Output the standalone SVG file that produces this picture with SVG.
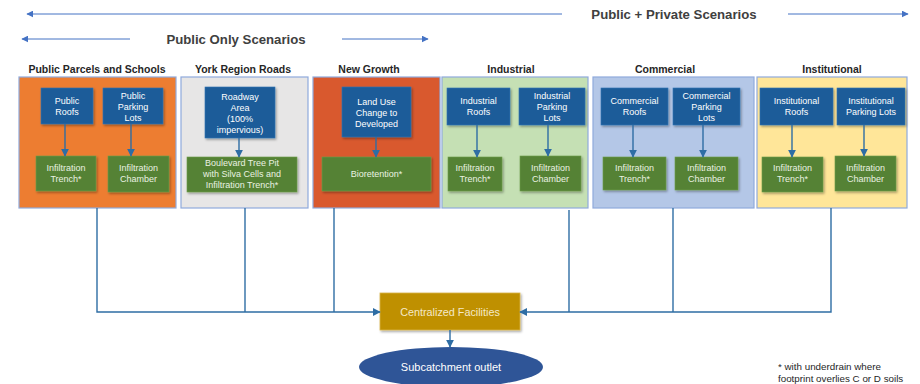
<svg xmlns="http://www.w3.org/2000/svg" width="920" height="384" viewBox="0 0 920 384">
  <defs>
    <marker id="arrTop" viewBox="0 0 10 10" refX="9" refY="5" markerWidth="7" markerHeight="7" orient="auto-start-reverse" markerUnits="userSpaceOnUse">
      <path d="M0,0 L10,5 L0,10 z" fill="#4472C4"/>
    </marker>
    <marker id="arrFlow" viewBox="0 0 10 10" refX="9" refY="5" markerWidth="8" markerHeight="8" orient="auto" markerUnits="userSpaceOnUse">
      <path d="M0,0 L10,5 L0,10 z" fill="#2E6DA4"/>
    </marker>
    <filter id="shadow" x="-10%" y="-10%" width="130%" height="140%">
      <feDropShadow dx="1.2" dy="1.5" stdDeviation="1" flood-color="#000" flood-opacity="0.35"/>
    </filter>
  </defs>
  <style>
    .scope { fill: none; stroke: #4472C4; stroke-width: 1; }
    .scopeText { font-family: "Liberation Sans", Arial, sans-serif; font-weight: bold; font-size: 13.2px; fill: #404040; text-anchor: middle; }
    .title { font-family: "Liberation Sans", Arial, sans-serif; font-weight: bold; font-size: 10.5px; fill: #262626; text-anchor: middle; }
    .panel { stroke: #8FAADC; stroke-width: 1.2; }
    .src { fill: #1F5C99; stroke: #2E75B6; stroke-width: 0.6; filter: url(#shadow); }
    .bmp { fill: #548235; stroke: #6E9E4A; stroke-width: 0.6; filter: url(#shadow); }
    .lbl { font-family: "Liberation Sans", Arial, sans-serif; font-size: 9px; fill: #FFFFFF; text-anchor: middle; }
    .lblG { font-family: "Liberation Sans", Arial, sans-serif; font-size: 9px; fill: #EAF2E2; text-anchor: middle; }
    .flow { fill: none; stroke: #2E6DA4; stroke-width: 1.4; }
    .note { font-family: "Liberation Sans", Arial, sans-serif; font-size: 9.8px; fill: #262626; }
  </style>

  <rect width="920" height="384" fill="#FFFFFF"/>

  <!-- Scenario range arrows -->
  <g id="scenario-ranges">
    <line class="scope" x1="27" y1="14" x2="562" y2="14" marker-start="url(#arrTop)"/>
    <line class="scope" x1="788" y1="14" x2="908" y2="14" marker-end="url(#arrTop)"/>
    <text class="scopeText" x="674" y="18.5">Public + Private Scenarios</text>
    <line class="scope" x1="22" y1="39" x2="130" y2="39" marker-start="url(#arrTop)"/>
    <line class="scope" x1="342" y1="39" x2="428" y2="39" marker-end="url(#arrTop)"/>
    <text class="scopeText" x="236" y="43.5">Public Only Scenarios</text>
  </g>

  <!-- Public Parcels and Schools -->
  <g id="public-parcels">
    <text class="title" x="97" y="72.5">Public Parcels and Schools</text>
    <rect class="panel" x="19" y="77" width="157" height="131" fill="#ED7D31"/>
    <g id="public-roofs">
      <rect class="src" x="41" y="88" width="52" height="36"/>
      <text class="lbl" x="67" y="104">Public</text>
      <text class="lbl" x="67" y="115">Roofs</text>
    </g>
    <g id="public-parking">
      <rect class="src" x="103" y="88" width="60" height="36"/>
      <text class="lbl" x="133" y="99">Public</text>
      <text class="lbl" x="133" y="110">Parking</text>
      <text class="lbl" x="133" y="121">Lots</text>
    </g>
    <g id="public-trench">
      <rect class="bmp" x="36" y="156" width="60" height="35"/>
      <text class="lblG" x="66" y="171">Infiltration</text>
      <text class="lblG" x="66" y="182">Trench*</text>
    </g>
    <g id="public-chamber">
      <rect class="bmp" x="108" y="156" width="61" height="36"/>
      <text class="lblG" x="138.5" y="171">Infiltration</text>
      <text class="lblG" x="138.5" y="182">Chamber</text>
    </g>
  </g>

  <!-- York Region Roads -->
  <g id="york-roads">
    <text class="title" x="243" y="72.5">York Region Roads</text>
    <rect class="panel" x="181" y="77" width="127" height="131" fill="#E7E6E6"/>
    <g id="roadway-area">
      <rect class="src" x="205" y="87" width="70" height="51"/>
      <text class="lbl" x="240" y="100">Roadway</text>
      <text class="lbl" x="240" y="111">Area</text>
      <text class="lbl" x="240" y="122">(100%</text>
      <text class="lbl" x="240" y="133">impervious)</text>
    </g>
    <g id="tree-pit">
      <rect class="bmp" x="187" y="157" width="110" height="35"/>
      <text class="lblG" x="242" y="166">Boulevard Tree Pit</text>
      <text class="lblG" x="242" y="177">with Silva Cells and</text>
      <text class="lblG" x="242" y="188">Infiltration Trench*</text>
    </g>
  </g>

  <!-- New Growth -->
  <g id="new-growth">
    <text class="title" x="369" y="72.5">New Growth</text>
    <rect class="panel" x="313" y="77" width="127" height="131" fill="#D9592E"/>
    <g id="land-use">
      <rect class="src" x="342" y="87" width="69" height="50"/>
      <text class="lbl" x="376.5" y="105">Land Use</text>
      <text class="lbl" x="376.5" y="116">Change to</text>
      <text class="lbl" x="376.5" y="127">Developed</text>
    </g>
    <g id="bioretention">
      <rect class="bmp" x="322" y="157" width="109" height="34"/>
      <text class="lblG" x="376.5" y="177">Bioretention*</text>
    </g>
  </g>

  <!-- Industrial -->
  <g id="industrial">
    <text class="title" x="511" y="72.5">Industrial</text>
    <rect class="panel" x="442" y="77" width="146" height="131" fill="#C5E0B4"/>
    <g id="industrial-roofs">
      <rect class="src" x="447" y="88" width="63" height="37"/>
      <text class="lbl" x="478.5" y="104">Industrial</text>
      <text class="lbl" x="478.5" y="115">Roofs</text>
    </g>
    <g id="industrial-parking">
      <rect class="src" x="519" y="88" width="66" height="37"/>
      <text class="lbl" x="552" y="99">Industrial</text>
      <text class="lbl" x="552" y="110">Parking</text>
      <text class="lbl" x="552" y="121">Lots</text>
    </g>
    <g id="industrial-trench">
      <rect class="bmp" x="448" y="157" width="54" height="34"/>
      <text class="lblG" x="475" y="171">Infiltration</text>
      <text class="lblG" x="475" y="182">Trench*</text>
    </g>
    <g id="industrial-chamber">
      <rect class="bmp" x="520" y="156" width="61" height="35"/>
      <text class="lblG" x="550.5" y="171">Infiltration</text>
      <text class="lblG" x="550.5" y="182">Chamber</text>
    </g>
  </g>

  <!-- Commercial -->
  <g id="commercial">
    <text class="title" x="665" y="72.5">Commercial</text>
    <rect class="panel" x="593" y="77" width="161" height="131" fill="#B4C7E7"/>
    <g id="commercial-roofs">
      <rect class="src" x="601" y="88" width="67" height="37"/>
      <text class="lbl" x="634.5" y="104">Commercial</text>
      <text class="lbl" x="634.5" y="115">Roofs</text>
    </g>
    <g id="commercial-parking">
      <rect class="src" x="673" y="88" width="67" height="37"/>
      <text class="lbl" x="706.5" y="99">Commercial</text>
      <text class="lbl" x="706.5" y="110">Parking</text>
      <text class="lbl" x="706.5" y="121">Lots</text>
    </g>
    <g id="commercial-trench">
      <rect class="bmp" x="603" y="157" width="63" height="33"/>
      <text class="lblG" x="634.5" y="171">Infiltration</text>
      <text class="lblG" x="634.5" y="182">Trench*</text>
    </g>
    <g id="commercial-chamber">
      <rect class="bmp" x="675" y="157" width="63" height="33"/>
      <text class="lblG" x="706.5" y="171">Infiltration</text>
      <text class="lblG" x="706.5" y="182">Chamber</text>
    </g>
  </g>

  <!-- Institutional -->
  <g id="institutional">
    <text class="title" x="832" y="72.5">Institutional</text>
    <rect class="panel" x="757" y="77" width="150" height="131" fill="#FFE699"/>
    <g id="institutional-roofs">
      <rect class="src" x="760" y="88" width="73" height="37"/>
      <text class="lbl" x="796.5" y="104">Institutional</text>
      <text class="lbl" x="796.5" y="115">Roofs</text>
    </g>
    <g id="institutional-parking">
      <rect class="src" x="837" y="88" width="68" height="37"/>
      <text class="lbl" x="871" y="104">Institutional</text>
      <text class="lbl" x="871" y="115">Parking Lots</text>
    </g>
    <g id="institutional-trench">
      <rect class="bmp" x="762" y="157" width="61" height="35"/>
      <text class="lblG" x="792.5" y="171">Infiltration</text>
      <text class="lblG" x="792.5" y="182">Trench*</text>
    </g>
    <g id="institutional-chamber">
      <rect class="bmp" x="835" y="156" width="61" height="35"/>
      <text class="lblG" x="865.5" y="171">Infiltration</text>
      <text class="lblG" x="865.5" y="182">Chamber</text>
    </g>
  </g>

  <!-- Centralized facilities and outlet -->
  <g id="centralized">
    <rect x="380" y="293" width="140" height="37" fill="#BF9000" stroke="#D9B54A" stroke-width="0.8" filter="url(#shadow)"/>
    <text class="lbl" x="450" y="315.5" style="font-size:10.8px; fill:#F5E9C8">Centralized Facilities</text>
  </g>
  <g id="outlet">
    <ellipse cx="451" cy="367" rx="92" ry="20" fill="#2F5597"/>
    <text class="lbl" x="451" y="371" style="font-size:11px">Subcatchment outlet</text>
  </g>

  <g id="footnote">
    <text class="note" x="778" y="369.5">* with underdrain where</text>
    <text class="note" x="778" y="381.5">footprint overlies C or D soils</text>
  </g>

  <!-- Connectors -->
  <g id="connectors">
    <!-- source to BMP arrows inside panels -->
    <line class="flow" x1="65" y1="124" x2="65" y2="156" marker-end="url(#arrFlow)"/>
    <line class="flow" x1="131" y1="124" x2="131" y2="156" marker-end="url(#arrFlow)"/>
    <line class="flow" x1="239" y1="138" x2="239" y2="157" marker-end="url(#arrFlow)"/>
    <line class="flow" x1="376" y1="137" x2="376" y2="157" marker-end="url(#arrFlow)"/>
    <line class="flow" x1="477" y1="125" x2="477" y2="157" marker-end="url(#arrFlow)"/>
    <line class="flow" x1="548" y1="125" x2="548" y2="156" marker-end="url(#arrFlow)"/>
    <line class="flow" x1="633" y1="125" x2="633" y2="157" marker-end="url(#arrFlow)"/>
    <line class="flow" x1="703" y1="125" x2="703" y2="157" marker-end="url(#arrFlow)"/>
    <line class="flow" x1="792" y1="125" x2="792" y2="157" marker-end="url(#arrFlow)"/>
    <line class="flow" x1="864" y1="125" x2="864" y2="156" marker-end="url(#arrFlow)"/>

    <!-- panels to centralized facilities -->
    <path class="flow" d="M97,208 V312 H380" marker-end="url(#arrFlow)"/>
    <line class="flow" x1="245" y1="208" x2="245" y2="312"/>
    <line class="flow" x1="334" y1="208" x2="334" y2="312"/>
    <path class="flow" d="M831,208 V312 H520" marker-end="url(#arrFlow)"/>
    <line class="flow" x1="569" y1="210" x2="569" y2="312"/>
    <line class="flow" x1="673" y1="208" x2="673" y2="312"/>

    <!-- centralized facilities to outlet -->
    <line class="flow" x1="450" y1="330" x2="450" y2="347" marker-end="url(#arrFlow)"/>
  </g>
</svg>
